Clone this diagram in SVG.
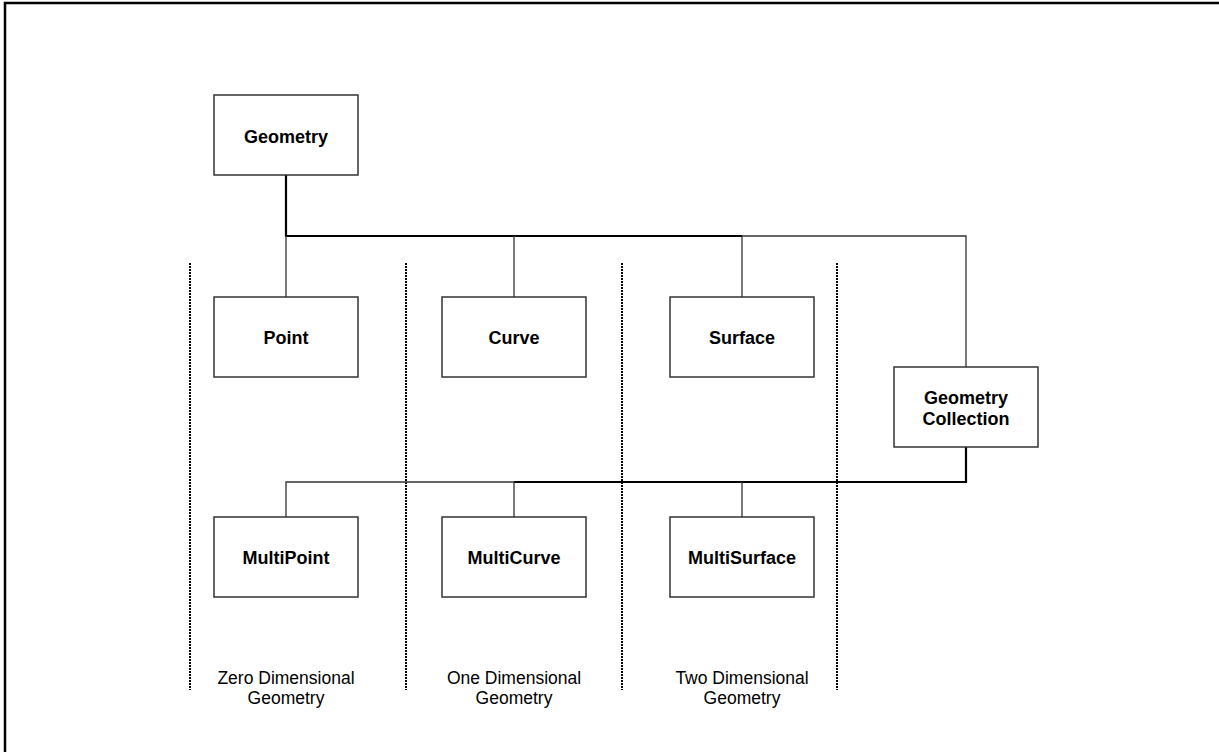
<svg xmlns="http://www.w3.org/2000/svg" width="1219" height="752" viewBox="0 0 1219 752">
  <style>
    .box { fill: #ffffff; stroke: #333333; stroke-width: 1.5; }
    .name { font-family: "Liberation Sans", Arial, sans-serif; font-weight: bold; font-size: 18px; text-anchor: middle; fill: #000000; }
    .note { font-family: "Liberation Sans", Arial, sans-serif; font-size: 17.5px; text-anchor: middle; fill: #000000; }
    .heavy { stroke: #000000; stroke-width: 2.2; fill: none; }
    .light { stroke: #333333; stroke-width: 1.3; fill: none; }
    .divider { stroke: #000000; stroke-width: 2; stroke-dasharray: 2 1; fill: none; }
  </style>

  <rect width="1219" height="752" fill="#ffffff"/>
  <!-- page frame -->
  <rect x="5" y="3" width="1230" height="770" fill="none" stroke="#000000" stroke-width="2.5"/>

  <!-- dimension dividers -->
  <g id="dividers">
    <line class="divider" x1="190" y1="263" x2="190" y2="690"/>
    <line class="divider" x1="406" y1="263" x2="406" y2="690"/>
    <line class="divider" x1="622" y1="263" x2="622" y2="690"/>
    <line class="divider" x1="837" y1="263" x2="837" y2="690"/>
  </g>

  <!-- connectors -->
  <g id="connectors">
    <path class="heavy" d="M286 175 V236 H742"/>
    <path class="light" d="M742 236 H966 V367"/>
    <path class="light" d="M286 236 V297"/>
    <path class="light" d="M514 236 V297"/>
    <path class="light" d="M742 236 V297"/>
    <path class="heavy" d="M966 447 V482 H514"/>
    <path class="light" d="M514 482 H286 V517"/>
    <path class="light" d="M514 482 V517"/>
    <path class="light" d="M742 482 V517"/>
  </g>

  <g id="geometry">
    <rect class="box" x="214" y="95" width="144" height="80"/>
    <text class="name" x="286" y="142.5">Geometry</text>
  </g>
  <g id="point">
    <rect class="box" x="214" y="297" width="144" height="80"/>
    <text class="name" x="286" y="344">Point</text>
  </g>
  <g id="curve">
    <rect class="box" x="442" y="297" width="144" height="80"/>
    <text class="name" x="514" y="344">Curve</text>
  </g>
  <g id="surface">
    <rect class="box" x="670" y="297" width="144" height="80"/>
    <text class="name" x="742" y="344">Surface</text>
  </g>
  <g id="geometry-collection">
    <rect class="box" x="894" y="367" width="144" height="80"/>
    <text class="name" x="966" y="403.5">Geometry</text>
    <text class="name" x="966" y="425">Collection</text>
  </g>
  <g id="multipoint">
    <rect class="box" x="214" y="517" width="144" height="80"/>
    <text class="name" x="286" y="564">MultiPoint</text>
  </g>
  <g id="multicurve">
    <rect class="box" x="442" y="517" width="144" height="80"/>
    <text class="name" x="514" y="564">MultiCurve</text>
  </g>
  <g id="multisurface">
    <rect class="box" x="670" y="517" width="144" height="80"/>
    <text class="name" x="742" y="564">MultiSurface</text>
  </g>

  <!-- column captions -->
  <g id="captions">
    <text class="note" x="286" y="684">Zero Dimensional</text>
    <text class="note" x="286" y="704">Geometry</text>
    <text class="note" x="514" y="684">One Dimensional</text>
    <text class="note" x="514" y="704">Geometry</text>
    <text class="note" x="742" y="684">Two Dimensional</text>
    <text class="note" x="742" y="704">Geometry</text>
  </g>
</svg>
